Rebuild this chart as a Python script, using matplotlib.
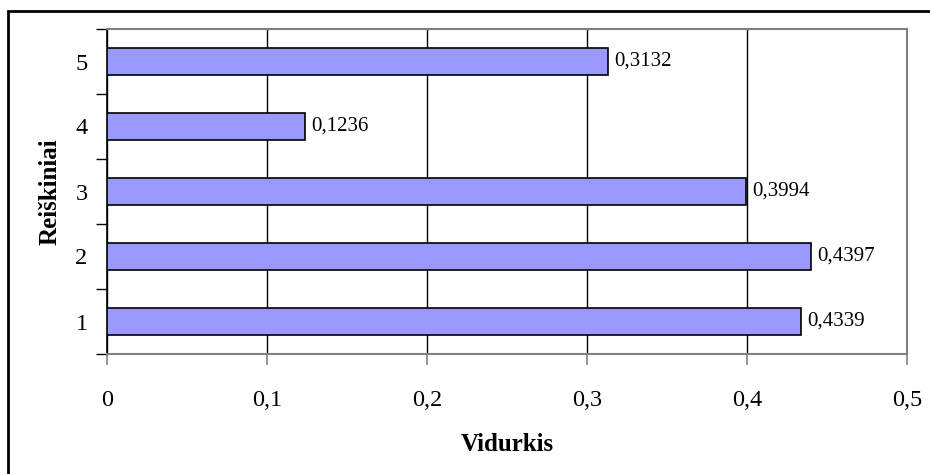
import matplotlib
matplotlib.use("Agg")
import matplotlib.pyplot as plt
from matplotlib.patches import Rectangle
from matplotlib.ticker import FixedLocator

categories = ["1", "2", "3", "4", "5"]
values = [0.4339, 0.4397, 0.3994, 0.1236, 0.3132]
value_labels = ["0,4339", "0,4397", "0,3994", "0,1236", "0,3132"]
x_ticks = [0, 0.1, 0.2, 0.3, 0.4, 0.5]
x_tick_labels = ["0", "0,1", "0,2", "0,3", "0,4", "0,5"]

plt.rcParams["font.family"] = ["Liberation Serif", "DejaVu Serif"]

W, H = 930, 474
fig = plt.figure(figsize=(W / 100, H / 100), dpi=100)
ax = fig.add_axes([107 / W, 1 - 354 / H, 800 / W, 325 / H])

pos = list(range(len(categories)))
ax.barh(pos, values, height=0.43, color="#9999FF", edgecolor="black",
        linewidth=1.2, zorder=3)

for p, v, lab in zip(pos, values, value_labels):
    ax.text(v + 0.004, p, lab, va="center", ha="left", fontsize=15, zorder=4)

ax.set_xlim(0, 0.5)
ax.set_ylim(-0.5, len(categories) - 0.5)

ax.set_xticks(x_ticks)
ax.set_xticklabels(x_tick_labels, fontsize=17.5)
# category boundaries carry the tick marks, centres carry the labels
ax.yaxis.set_major_locator(FixedLocator([p - 0.5 for p in range(len(categories) + 1)]))
ax.set_yticklabels([], minor=False)
ax.set_yticks(pos, minor=True)
ax.set_yticklabels(categories, minor=True, fontsize=17.5)
ax.tick_params(axis="y", which="major", length=8, width=1, color="black", direction="out")
ax.tick_params(axis="y", which="minor", length=0, pad=14)
ax.tick_params(axis="x", which="major", length=8, width=1.2, color="#808080", direction="out", pad=18)

ax.xaxis.grid(True, color="black", linewidth=1, zorder=0)
ax.set_axisbelow(True)

for side in ("top", "right", "bottom"):
    ax.spines[side].set_color("#808080")
    ax.spines[side].set_linewidth(1.5)
ax.spines["left"].set_color("black")
ax.spines["left"].set_linewidth(1.2)

ax.set_xlabel("Vidurkis", fontsize=18, fontweight="bold", labelpad=16)
ax.set_ylabel("Reiškiniai", fontsize=18, fontweight="bold", labelpad=10)

# chart frame, running off the right and bottom edges
frame = Rectangle((8 / W, -0.1), 1.2, 1 - 11 / H + 0.1, transform=fig.transFigure,
                  fill=False, edgecolor="black", linewidth=2, clip_on=False)
fig.patches.append(frame)

fig.savefig("out.png", dpi=100)
